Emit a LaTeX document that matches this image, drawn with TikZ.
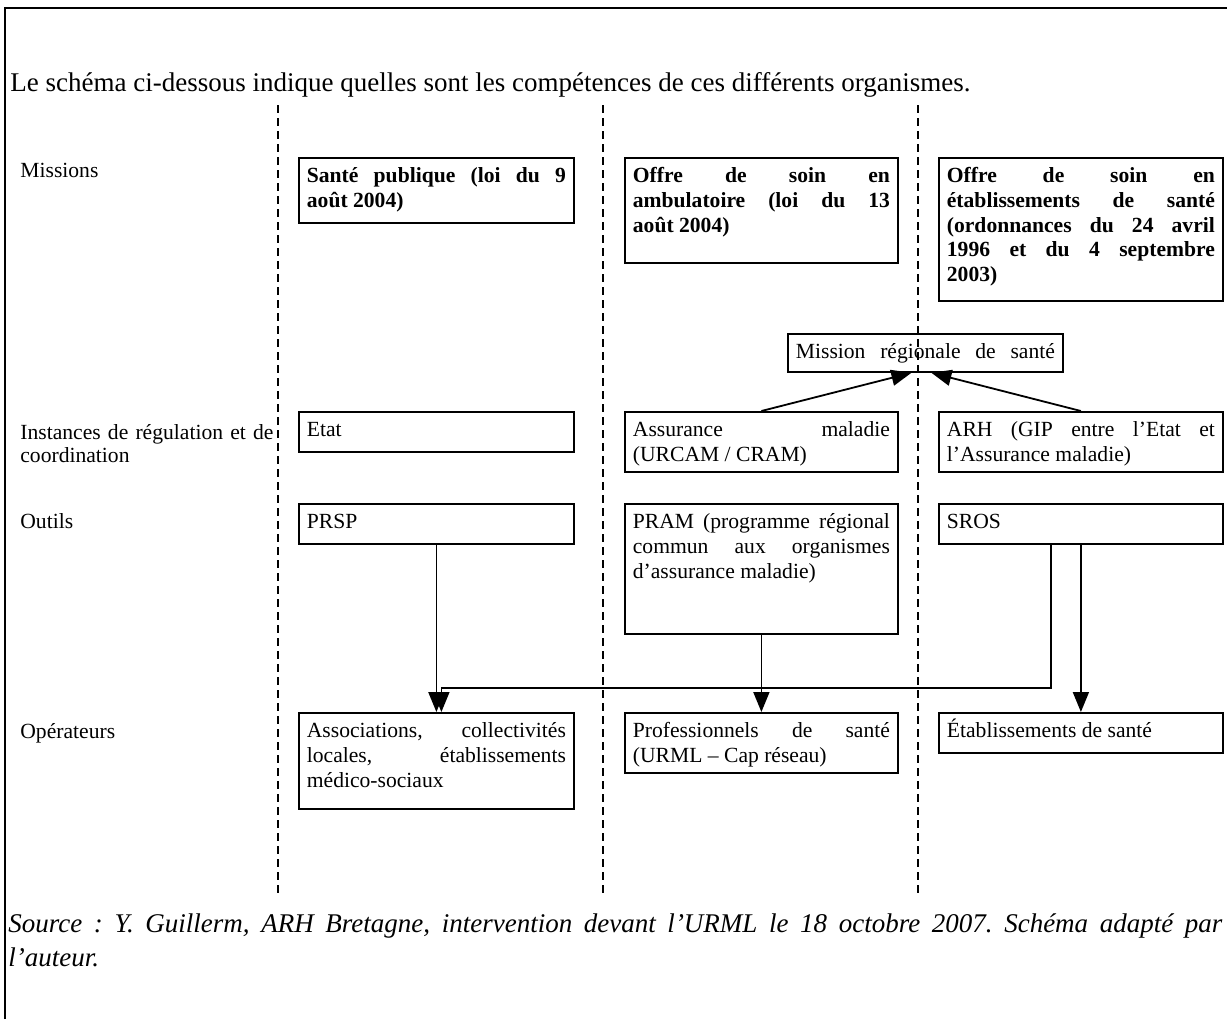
\documentclass[tikz,border=0pt]{standalone}
\usepackage{fontspec}
\setmainfont{Liberation Serif}
\usepackage{tikz}
\usetikzlibrary{positioning, arrows.meta}
\frenchspacing

\begin{document}
\begin{tikzpicture}[x=0.5pt, y=-0.5pt,
    boite/.style={draw, line width=0.9pt, anchor=north west, align=justify,
      inner xsep=4pt, inner ysep=4pt, text height=8.5pt,
      font=\fontsize{10.8}{12.3}\selectfont},
    etiquette/.style={anchor=base west, inner sep=0pt, align=left, text width=130pt,
      font=\fontsize{10.8}{11.5}\selectfont},
    fleche/.style={-{Triangle[width=8pt, length=10pt]}, line width=0.9pt},
    separation/.style={dashed, dash pattern=on 4pt off 2.5pt, line width=0.8pt}]
        \useasboundingbox (0,0) rectangle (1227,1019);
        \draw[line width=1.2pt] (5,1019) -- (5,8) -- (1227,8);

        \node[anchor=base west, inner sep=0pt, font=\fontsize{13.5}{15.5}\selectfont] (titre) at (10,91)
            {Le schéma ci-dessous indique quelles sont les compétences de ces différents organismes.};

        \foreach \x in {278, 603, 918}
        \draw[separation] (\x,105) -- (\x,893);

        % libelles des lignes
        \node[etiquette] (lmis) at (20,177) {Missions};
        \node[etiquette] (linst) at (20,439) {Instances de régulation et de\\coordination};
        \node[etiquette] (lout) at (20,528) {Outils};
        \node[etiquette] (lop) at (20,738) {Opérateurs};

        % missions
        \node[boite, text width=129.5pt, text depth=16pt] (sp) at (298,157)
            {\textbf{Santé publique (loi du 9\linebreak août 2004)}};
        \node[boite, text width=128.5pt, text depth=36pt] (amb) at (624,157)
            {\textbf{Offre de soin en\linebreak ambulatoire (loi du 13\linebreak août 2004)}};
        \node[boite, text width=134pt, text depth=55pt] (etabs) at (938,157)
            {\textbf{Offre de soin en\linebreak établissements de santé\linebreak (ordonnances du 24 avril\linebreak 1996 et du 4 septembre\linebreak 2003)}};

        \node[boite, text width=129.5pt, text depth=2.5pt] (mrs) at (787,333)
            {Mission\hfill régionale\hfill de\hfill santé};

        % instances
        \node[boite, text width=129.5pt, text depth=3.5pt] (etat) at (298,411) {Etat};
        \node[boite, text width=128.5pt, text depth=13.5pt] (assur) at (624,411)
            {Assurance maladie\linebreak (URCAM / CRAM)};
        \node[boite, text width=134pt, text depth=13.5pt] (arh) at (938,411)
            {ARH (GIP entre l’Etat et\linebreak l’Assurance maladie)};

        % outils
        \node[boite, text width=129.5pt, text depth=3.5pt] (prsp) at (298,503) {PRSP};
        \node[boite, text width=128.5pt, text depth=48.5pt] (pram) at (624,503)
            {PRAM (programme régional\linebreak commun aux organismes\linebreak d’assurance maladie)};
        \node[boite, text width=134pt, text depth=3.5pt] (sros) at (938,503) {SROS};

        % operateurs
        \node[boite, text width=129.5pt, text depth=31.5pt] (assoc) at (298,712)
            {Associations, collectivités\linebreak locales, établissements\linebreak médico-sociaux};
        \node[boite, text width=128.5pt, text depth=13.5pt] (prof) at (624,712)
            {Professionnels de santé\linebreak (URML – Cap réseau)};
        \node[boite, text width=134pt, text depth=3.5pt] (etab) at (938,712) {Établissements de santé};

        \draw[fleche] (assur.north) -- ([xshift=-7pt]mrs.south);
        \draw[fleche] (arh.north) -- ([xshift=3pt]mrs.south);
        \draw[fleche] (prsp.south) -- (assoc.north);
        \draw[fleche] (pram.south) -- (prof.north);
        \draw[fleche] (sros.south) -- (etab.north);
        \coordinate (coude) at ([xshift=2.5pt, yshift=12pt]assoc.north);
        \draw[fleche] ([xshift=-15pt]sros.south) |- (coude) -- ([xshift=2.5pt]assoc.north);

        \node[anchor=base west, inner sep=0pt, text width=607pt, align=justify,
            font=\fontsize{13.5}{17}\selectfont\itshape] (source) at (8,932)
            {Source : Y. Guillerm, ARH Bretagne, intervention devant l’URML le 18 octobre 2007. Schéma adapté par\linebreak l’auteur.};
    \end{tikzpicture}
\end{document}
